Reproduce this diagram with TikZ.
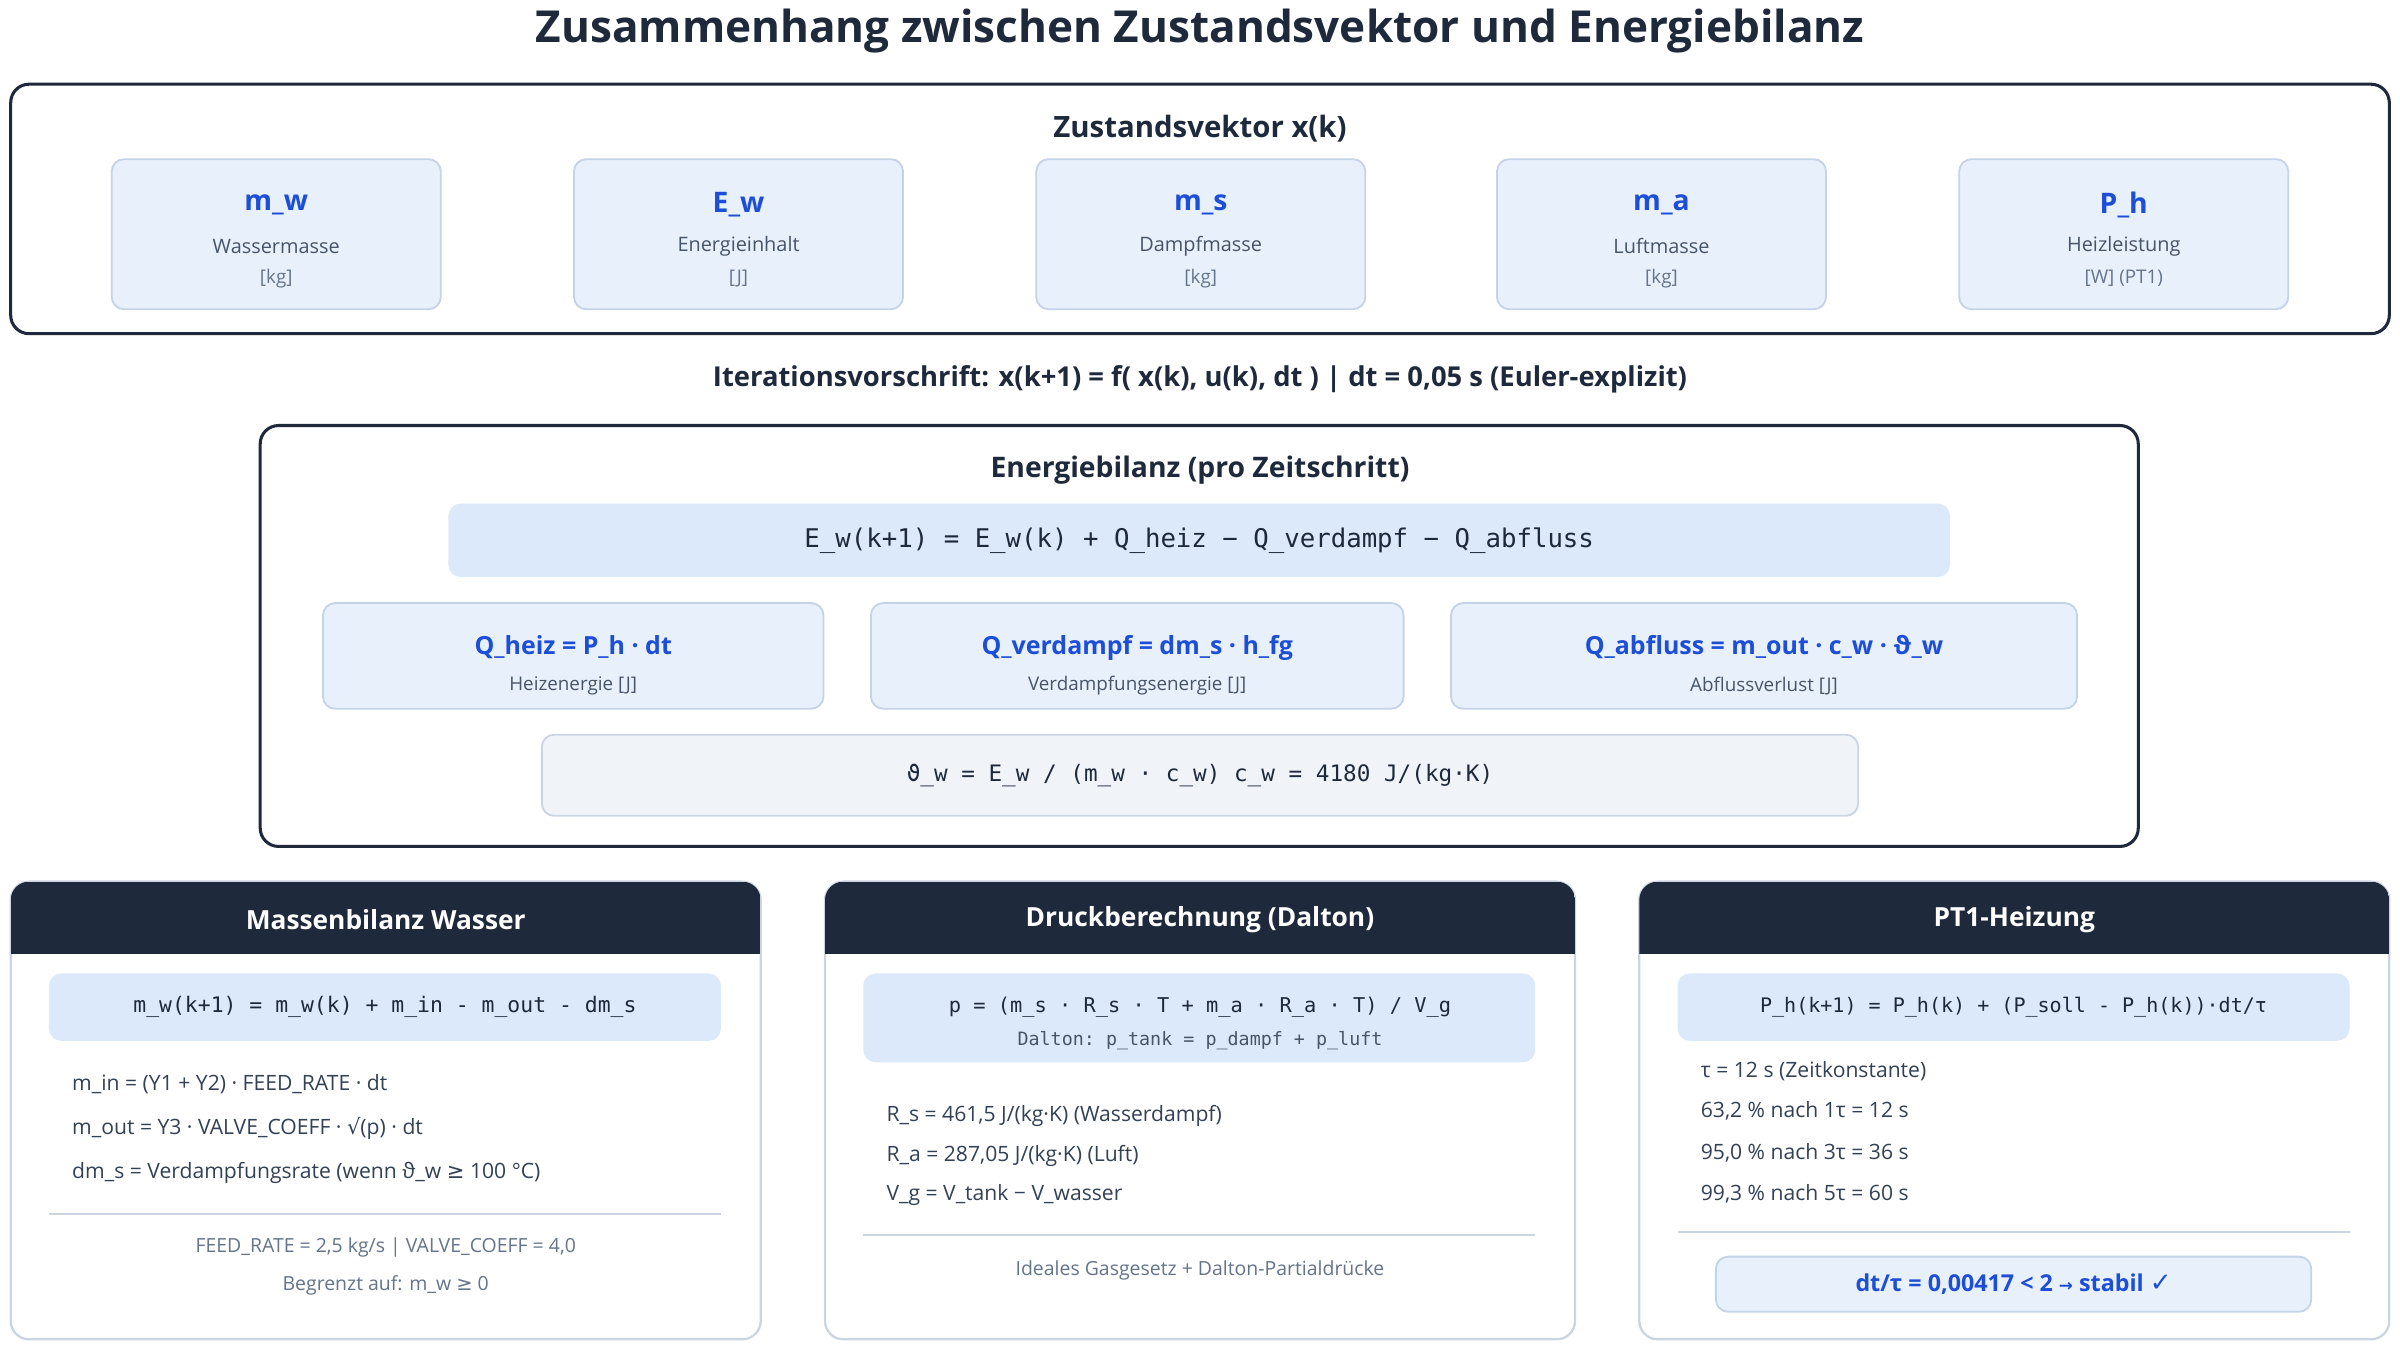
\documentclass[tikz,border=0pt]{standalone}
\usepackage{fontspec}
\setmainfont{Open Sans}
\setmonofont{DejaVu Sans Mono}
\newfontfamily\symfont{DejaVu Sans}
\usepackage{tikz}
\usetikzlibrary{positioning}

\definecolor{navy}{HTML}{1E293B}
\definecolor{accent}{HTML}{1D4ED8}
\definecolor{boxfill}{HTML}{E8F0FC}
\definecolor{boxline}{HTML}{C5D3E8}
\definecolor{formfill}{HTML}{DBE9FB}
\definecolor{greyfill}{HTML}{F0F4F9}
\definecolor{greyline}{HTML}{CBD5E1}
\definecolor{bodytext}{HTML}{334155}
\definecolor{subtext}{HTML}{475569}
\definecolor{unittext}{HTML}{64748B}

\newcommand{\fsz}[1]{\fontsize{#1}{#1}\selectfont}
\newcommand{\ds}[1]{{\symfont #1}}

\tikzset{
  outer/.style={draw=navy, line width=2pt, rounded corners=12pt},
  statebox/.style={draw=boxline, fill=boxfill, line width=1.2pt, rounded corners=8pt},
  formbox/.style={fill=formfill, rounded corners=8pt},
  greybox/.style={draw=greyline, fill=greyfill, line width=1.2pt, rounded corners=8pt},
  panel/.style={draw=greyline, fill=white, line width=1.5pt, rounded corners=12pt,
                minimum width=490pt, minimum height=299pt},
  head/.style={text=navy, font=\bfseries\fsz{#1}},
  panelhead/.style={text=white, font=\bfseries\fsz{17.2}},
  sym/.style={text=accent, font=\bfseries\fsz{18.5}},
  term/.style={text=accent, font=\bfseries\fsz{16.3}},
  subtxt/.style={text=subtext, font=\fsz{13}},
  unittxt/.style={text=unittext, font=\fsz{12.3}},
  line/.style={text=bodytext, font=\fsz{13.8}, anchor=west, inner sep=0pt},
  foot/.style={text=unittext, font=\fsz{12.7}},
  code/.style={font=\ttfamily\fsz{#1}, text=navy},
  rule/.style={draw=greyline, line width=1.2pt}
}

\begin{document}
\begin{tikzpicture}[x=1pt,y=-1pt]
    \useasboundingbox (0,0) rectangle (1568,881);
    \node [head=28.8] (T) at (784,20) {Zusammenhang zwischen Zustandsvektor und Energiebilanz};

    % Zustandsvektor
    \node [outer, minimum width=1554pt, minimum height=163pt] (ZV) at (784,136.5) {};
    \node [head=19.2] (ZVt) at (784,84) {Zustandsvektor x(k)};
    \foreach \cx/\vsym/\lbl/\unt [count=\i] in {180.5/m\_w/Wassermasse/[kg], 482.5/E\_w/Energieinhalt/[J],
        784.5/m\_s/Dampfmasse/[kg], 1085.5/m\_a/Luftmasse/[kg], 1387.5/P\_h/Heizleistung/[W] (PT1)} {
      \node [statebox, minimum width=215pt, minimum height=98pt] (S\i) at (\cx,153) {};
      \node [sym] (S\i s) at (\cx,134) {\vsym};
      \node [subtxt] (S\i l) at (\cx,161) {\lbl};
      \node [unittxt] (S\i u) at (\cx,182) {\unt};
    }

    \node [head=17.9] (IT) at (784,248)
      {Iterationsvorschrift: x(k+1) = f( x(k), u(k), dt ) | dt = 0,05 s (Euler-explizit)};

    % Energiebilanz
    \node [outer, minimum width=1227pt, minimum height=275pt] (EB) at (783.5,415.5) {};
    \node [head=18.5] (EBt) at (784,307) {Energiebilanz (pro Zeitschritt)};
    \node [formbox, minimum width=981pt, minimum height=48pt, code=16.8] (EBf) at (783.5,353)
      {E\_w(k+1) = E\_w(k) + Q\_heiz − Q\_verdampf − Q\_abfluss};
    \foreach \cx/\w/\ttl/\lbl [count=\i] in {374.5/327/Q\_heiz = P\_h · dt/Heizenergie [J],
        743/348/Q\_verdampf = dm\_s · h\_fg/Verdampfungsenergie [J],
        1152.5/409/Q\_abfluss = m\_out · c\_w · ϑ\_w/Abflussverlust [J]} {
      \node [statebox, minimum width=\w pt, minimum height=69pt] (Q\i) at (\cx,428.5) {};
      \node [term] (Q\i t) at (\cx,423) {\ttl};
      \node [subtxt, font=\fsz{12.3}] (Q\i l) at (\cx,448) {\lbl};
    }
    \node [greybox, minimum width=860pt, minimum height=53pt, code=14.8] (TH) at (784,506.5)
      {ϑ\_w = E\_w / (m\_w · c\_w)~c\_w = 4180 J/(kg·K)};

    % untere Spalten
    \foreach \cx/\ttl [count=\i] in {252/Massenbilanz Wasser, 784/Druckberechnung (Dalton), 1316/PT1-Heizung} {
      \node [panel] (P\i) at (\cx,725.5) {};
      \begin{scope}
        \clip [rounded corners=12pt] ({\cx-245},576) rectangle ({\cx+245},875);
        \fill [navy] ({\cx-245},576) rectangle ({\cx+245},623);
      \end{scope}
      \node [panelhead] (P\i t) at (\cx,601) {\ttl};
    }

    % Massenbilanz
    \node [formbox, minimum width=439pt, minimum height=44pt, code=14] (MBf) at (251.5,658)
      {m\_w(k+1) = m\_w(k) + m\_in - m\_out - dm\_s};
    \node [line] (MB1) at (47,708) {m\_in = (Y1 + Y2) · FEED\_RATE · dt};
    \node [line] (MB2) at (47,737) {m\_out = Y3 · VALVE\_COEFF · \ds{√}(p) · dt};
    \node [line] (MB3) at (47,766) {dm\_s = Verdampfungsrate (wenn ϑ\_w \ds{≥} 100 °C)};
    \draw [rule] (32,793) -- (471,793);
    \node [foot] (MB4) at (252,815) {FEED\_RATE = 2,5 kg/s | VALVE\_COEFF = 4,0};
    \node [foot] (MB5) at (252,840) {Begrenzt auf: m\_w \ds{≥} 0};

    % Druckberechnung
    \node [formbox, minimum width=439pt, minimum height=58pt] (DBf) at (783.5,665) {};
    \node [code=13.3] (DB0) at (784,658) {p = (m\_s · R\_s · T + m\_a · R\_a · T) / V\_g};
    \node [code=12, text=subtext] (DB0b) at (784,680) {Dalton: p\_tank = p\_dampf + p\_luft};
    \node [line] (DB1) at (579,729) {R\_s = 461,5 J/(kg·K) (Wasserdampf)};
    \node [line] (DB2) at (579,755) {R\_a = 287,05 J/(kg·K) (Luft)};
    \node [line] (DB3) at (579,781) {V\_g = V\_tank − V\_wasser};
    \draw [rule] (564,807) -- (1003,807);
    \node [foot] (DB4) at (784,830) {Ideales Gasgesetz + Dalton-Partialdrücke};

    % PT1-Heizung
    \node [formbox, minimum width=439pt, minimum height=44pt, code=13.1] (PTf) at (1315.5,658)
      {P\_h(k+1) = P\_h(k) + (P\_soll - P\_h(k))·dt/τ};
    \node [line] (PT1) at (1111,700) {τ = 12 s (Zeitkonstante)};
    \node [line] (PT2) at (1111,726) {63,2 \% nach 1τ = 12 s};
    \node [line] (PT3) at (1111,753) {95,0 \% nach 3τ = 36 s};
    \node [line] (PT4) at (1111,780) {99,3 \% nach 5τ = 60 s};
    \draw [rule] (1096,805) -- (1535,805);
    \node [statebox, minimum width=389pt, minimum height=36pt, text=accent, font=\bfseries\fsz{15.2}] (ST) at (1315.5,839)
      {dt/τ = 0,00417 < 2 {\symfont\fsz{11}→} stabil {\symfont\bfseries\fsz{17}✓}};
\end{tikzpicture}
\end{document}
